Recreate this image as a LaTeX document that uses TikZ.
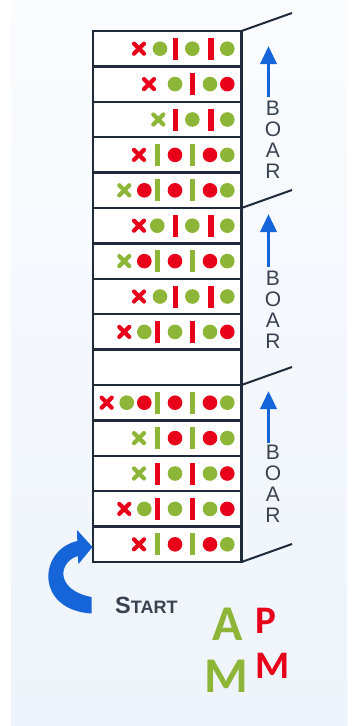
\documentclass[tikz,border=0pt]{standalone}
\usepackage{fontspec}
\setmainfont{Carlito}
\newfontfamily\libsans{Liberation Sans}
\usetikzlibrary{arrows.meta}
\definecolor{mygreen}{HTML}{8DB638}
\definecolor{myred}{HTML}{E8001A}
\definecolor{navy}{HTML}{1F2A3A}
\definecolor{myblue}{HTML}{1565D8}
\definecolor{txtgray}{HTML}{3A4250}
\definecolor{bgblue}{HTML}{EEF4FB}
\newcommand\mkGD[2]{\fill[mygreen] (#1,#2) circle (7.3);}
\newcommand\mkRD[2]{\fill[myred] (#1,#2) circle (7.3);}
\newcommand\mkGB[2]{\fill[mygreen] ({#1-2.7},{#2-11}) rectangle ({#1+2.7},{#2+11});}
\newcommand\mkRB[2]{\fill[myred] ({#1-2.7},{#2-11}) rectangle ({#1+2.7},{#2+11});}
\newcommand\mkGX[2]{\draw[mygreen,crossline] ({#1-5},{#2-5}) -- ({#1+5},{#2+5}) ({#1-5},{#2+5}) -- ({#1+5},{#2-5});}
\newcommand\mkRX[2]{\draw[myred,crossline] ({#1-5},{#2-5}) -- ({#1+5},{#2+5}) ({#1-5},{#2+5}) -- ({#1+5},{#2-5});}
\begin{document}
\begin{tikzpicture}[x=1pt,y=-1pt,
  crossline/.style={line width=4.2pt,line cap=round},
  boxline/.style={draw=navy,line width=2.4pt},
  slant/.style={draw=navy,line width=2pt},
  bluearrow/.style={myblue,line width=3.6pt,-{Triangle[length=18pt,width=16pt]}},
  boar/.style={text=txtgray,font=\libsans\fontsize{21}{21}\selectfont,inner sep=0pt,anchor=center,align=center}]
\useasboundingbox (0,0) rectangle (358,726);
\fill[white] (0,0) rectangle (358,726);
\shade[top color=white!70!bgblue,bottom color=bgblue] (11,0) rectangle (347,726);
% column
\fill[white] (93,31) rectangle (241.5,562);
% slants
\foreach \yy in {31,208,385,562} {\draw[slant] (241.5,\yy) -- (292,{\yy-18});}
% boxes
\foreach \i in {1,...,15} {\draw[boxline] (93,{31+(\i-1)*35.4}) rectangle (241.5,{31+\i*35.4});}
% row contents
\foreach \r/\spec in {
 1/{\mkRX/139,\mkGD/160,\mkRB/175.7,\mkGD/192.3,\mkRB/211,\mkGD/227.3},
 2/{\mkRX/149,\mkGD/175,\mkRB/192.3,\mkGD/210,\mkRD/227.3},
 3/{\mkGX/158.3,\mkRB/175.7,\mkGD/192.3,\mkRB/211,\mkGD/227.3},
 4/{\mkRX/139,\mkGB/157.3,\mkRD/175,\mkGB/192.3,\mkRD/210,\mkGD/227.3},
 5/{\mkGX/124.3,\mkRD/144.3,\mkGB/157.3,\mkRD/175,\mkGB/192.3,\mkRD/210,\mkGD/227.3},
 6/{\mkRX/139,\mkGD/157.3,\mkRB/175.7,\mkGD/192.3,\mkRB/211,\mkGD/227.3},
 7/{\mkGX/124.3,\mkRD/144.3,\mkGB/157.3,\mkRD/175,\mkGB/192.3,\mkRD/210,\mkGD/227.3},
 8/{\mkRX/139,\mkGD/160,\mkRB/175.7,\mkGD/192.3,\mkRB/211,\mkGD/227.3},
 9/{\mkRX/124.3,\mkGD/144.3,\mkRB/157.3,\mkGD/175,\mkRB/192.3,\mkGD/210,\mkRD/227.3},
 11/{\mkRX/106.7,\mkGD/126.7,\mkRD/144.3,\mkGB/157.3,\mkRD/175,\mkGB/192.3,\mkRD/210,\mkGD/227.3},
 12/{\mkGX/139,\mkGB/157.3,\mkRD/175,\mkGB/192.3,\mkRD/210,\mkGD/227.3},
 13/{\mkGX/139,\mkRB/157.3,\mkGD/175,\mkRB/192.3,\mkGD/210,\mkRD/227.3},
 14/{\mkRX/124.3,\mkGD/144.3,\mkRB/157.3,\mkGD/175,\mkRB/192.3,\mkGD/210,\mkRD/227.3},
 15/{\mkRX/139,\mkGB/157.3,\mkRD/175,\mkGB/192.3,\mkRD/210,\mkGD/227.3}} {
  \pgfmathsetmacro\yc{31+(\r-0.5)*35.4}
  \foreach \t/\xx in \spec {\t{\xx}{\yc}}
}
% blue arrows
\draw[bluearrow] (268.5,97) -- (268.5,46);
\draw[bluearrow] (268.5,267) -- (268.5,214);
\draw[bluearrow] (268.5,443) -- (268.5,391);
% BOAR labels
\node[boar] (boar1) at (273,140) {B\\O\\A\\R};
\node[boar] (boar2) at (273,309.5) {B\\O\\A\\R};
\node[boar] (boar3) at (273,483.5) {B\\O\\A\\R};
% start arrow
\fill[myblue] (77,530) -- (92.5,547) -- (78.5,564) -- (77.8,556)
  .. controls (58,562) and (55,590) .. (91.5,597) -- (91.5,613.5)
  .. controls (35,610) and (38,550) .. (77.3,541) -- cycle;
\node[anchor=base west,inner sep=0pt,text=txtgray] (start) at (115,613)
  {\libsans\bfseries\fontsize{23.5}{24}\selectfont S\fontsize{18}{18}\selectfont TART};
% AM PM
\node[anchor=base,inner sep=0pt,text=mygreen] (amA) at (227.5,640) {\bfseries\fontsize{50}{50}\selectfont A};
\node[anchor=base,inner sep=0pt,text=mygreen] (amM) at (226.5,692) {\bfseries\fontsize{50}{50}\selectfont M};
\node[anchor=base west,inner sep=0pt,text=myred] (pmP) at (255,633) {\bfseries\fontsize{39}{39}\selectfont P};
\node[anchor=base west,inner sep=0pt,text=myred] (pmM) at (255,678) {\bfseries\fontsize{39}{39}\selectfont M};
\end{tikzpicture}
\end{document}
